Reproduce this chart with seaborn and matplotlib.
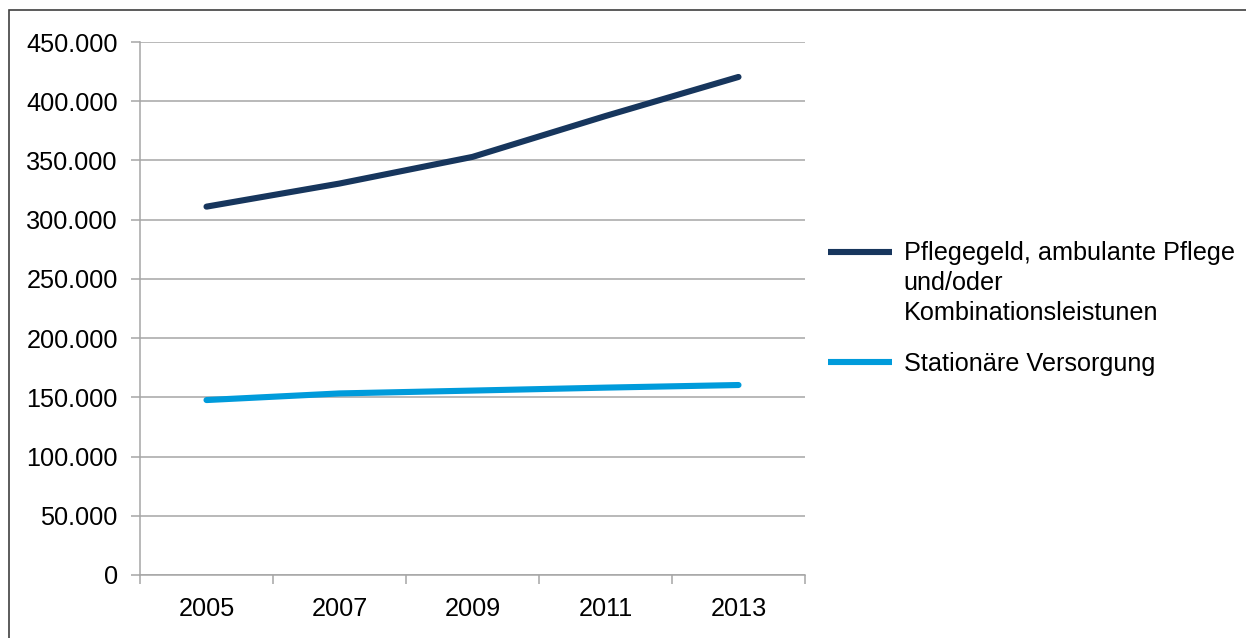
import pandas as pd
import numpy as np
import matplotlib
matplotlib.use("Agg")
import matplotlib.pyplot as plt
from matplotlib.patches import Rectangle
from matplotlib.ticker import FuncFormatter, FixedLocator
import seaborn as sns

years = ["2005", "2007", "2009", "2011", "2013"]
ambulant = [311000, 330500, 353000, 387500, 420500]
stationaer = [147700, 153300, 155700, 158200, 160400]
series_names = ["Pflegegeld, ambulante Pflege\nund/oder\nKombinationsleistunen",
                "Stationäre Versorgung"]
colors = ["#17365d", "#009bdb"]

df = pd.DataFrame({
    "Jahr": list(range(len(years))) * 2,
    "Wert": ambulant + stationaer,
    "Serie": [series_names[0]] * len(years) + [series_names[1]] * len(years),
})

sns.set_style("white")
plt.rcParams["font.family"] = ["Liberation Sans", "DejaVu Sans"]
plt.rcParams["text.color"] = "black"

fs = 18.2
fig = plt.figure(figsize=(12.46, 6.38), dpi=100)
ax = fig.add_axes([140 / 1246, 63 / 638, 665 / 1246, 533 / 638])

sns.lineplot(data=df, x="Jahr", y="Wert", hue="Serie", palette=colors,
             linewidth=4.4, ax=ax, solid_capstyle="round")

grid_col = "#a6a6a6"
ax.set_ylim(0, 450000)
ax.set_xlim(-0.5, len(years) - 0.5)
ax.set_yticks(np.arange(0, 450001, 50000))
ax.yaxis.set_major_formatter(FuncFormatter(lambda v, p: f"{int(v):,}".replace(",", ".")))
ax.yaxis.grid(True, color=grid_col, linewidth=1.1)
ax.set_axisbelow(True)

ax.xaxis.set_major_locator(FixedLocator(np.arange(-0.5, len(years), 1.0)))
ax.xaxis.set_major_formatter(FuncFormatter(lambda v, p: ""))
ax.xaxis.set_minor_locator(FixedLocator(np.arange(len(years))))
ax.set_xticklabels(years, minor=True)
ax.tick_params(axis="x", which="major", length=6.5, width=1.1, color=grid_col, direction="out")
ax.tick_params(axis="x", which="minor", length=0, pad=16, labelsize=fs, labelcolor="black")
ax.tick_params(axis="y", length=6.5, width=1.1, color=grid_col, pad=9.5, labelsize=fs,
               labelcolor="black", direction="out")
ax.tick_params(bottom=True, left=True)

for s in ["top", "right"]:
    ax.spines[s].set_visible(False)
for s in ["left", "bottom"]:
    ax.spines[s].set_color(grid_col)
    ax.spines[s].set_linewidth(1.1)

ax.set_xlabel("")
ax.set_ylabel("")

leg = ax.legend(loc="upper left", bbox_to_anchor=(828 / 1246, (638 - 241) / 638),
                bbox_transform=fig.transFigure, frameon=False, fontsize=fs,
                handlelength=2.55, handleheight=1.15, handletextpad=0.45,
                borderpad=0, borderaxespad=0, labelspacing=1.05)
for line in leg.get_lines():
    line.set_linewidth(4.4)
    line.set_solid_capstyle("butt")
for t in leg.get_texts():
    t.set_color("black")
    t.set_linespacing(1.32)
# handle next to the first line of a multi-line label
for col in leg._legend_handle_box.get_children():
    for row in col.get_children():
        row.align = "top"

fig.add_artist(Rectangle((9 / 1246, -0.1), 2, (638 - 10) / 638 + 0.1,
                         transform=fig.transFigure, fill=False,
                         edgecolor="#404040", linewidth=1.2))

fig.savefig("out.png", dpi=100)
